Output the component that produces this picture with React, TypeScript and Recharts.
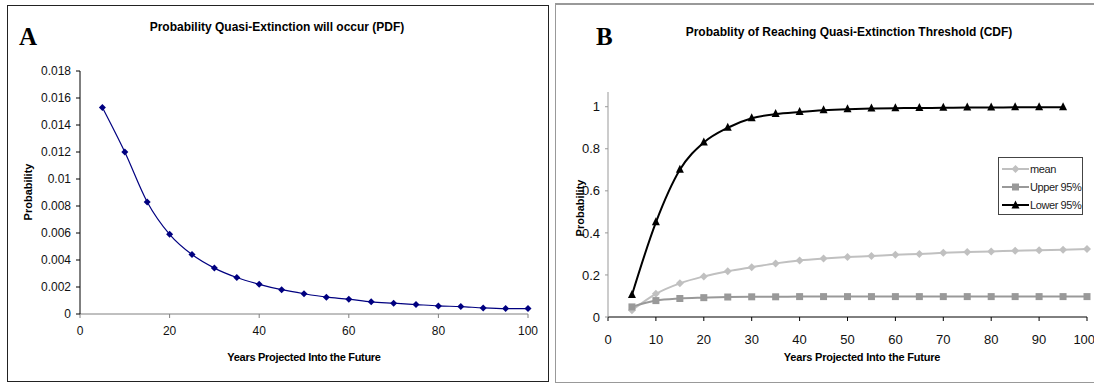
import { LineChart, Line, XAxis, YAxis } from 'recharts'

const years = [5, 10, 15, 20, 25, 30, 35, 40, 45, 50, 55, 60, 65, 70, 75, 80, 85, 90, 95, 100]

const pdf = [
  0.0153, 0.012, 0.0083, 0.0059, 0.0044, 0.0034, 0.0027, 0.0022, 0.0018, 0.0015,
  0.00125, 0.0011, 0.0009, 0.0008, 0.0007, 0.0006, 0.00055, 0.00045, 0.0004, 0.0004,
]

const cdfMean = [
  0.032, 0.11, 0.16, 0.193, 0.218, 0.237, 0.255, 0.269, 0.278, 0.285,
  0.29, 0.296, 0.3, 0.305, 0.309, 0.312, 0.315, 0.318, 0.32, 0.323,
]
const cdfUpper = [
  0.048, 0.078, 0.088, 0.092, 0.095, 0.096, 0.096, 0.097, 0.097, 0.097,
  0.097, 0.097, 0.097, 0.097, 0.097, 0.097, 0.097, 0.097, 0.097, 0.097,
]
const cdfLower = [
  0.105, 0.45, 0.7, 0.83, 0.9, 0.945, 0.965, 0.975, 0.983, 0.988,
  0.991, 0.993, 0.994, 0.995, 0.996, 0.996, 0.997, 0.997, 0.997,
]

const ticksA_x = [0, 20, 40, 60, 80, 100]
const ticksA_y = [0, 0.002, 0.004, 0.006, 0.008, 0.01, 0.012, 0.014, 0.016, 0.018]
const ticksB_x = [0, 10, 20, 30, 40, 50, 60, 70, 80, 90, 100]
const ticksB_y = [0, 0.2, 0.4, 0.6, 0.8, 1]

const dataA = years.map((yr, i) => ({ yr, p: pdf[i] }))
const dataB = years.map((yr, i) => ({ yr, mean: cdfMean[i], upper: cdfUpper[i], lower: cdfLower[i] }))

const sans = "'Liberation Sans', Arial, sans-serif"
const serif = "'Liberation Serif', 'Times New Roman', serif"

const diamond = (color: string, r: number) => (props: any) => {
  const { cx, cy, index, value } = props
  if (cx == null || cy == null || value == null) return <g key={`d-${index}`} />
  return <path key={`d-${index}`} d={`M${cx},${cy - r}L${cx + r},${cy}L${cx},${cy + r}L${cx - r},${cy}Z`} fill={color} />
}
const square = (color: string, r: number) => (props: any) => {
  const { cx, cy, index, value } = props
  if (cx == null || cy == null || value == null) return <g key={`s-${index}`} />
  return <rect key={`s-${index}`} x={cx - r} y={cy - r} width={2 * r} height={2 * r} fill={color} />
}
const triangle = (color: string, r: number) => (props: any) => {
  const { cx, cy, index, value } = props
  if (cx == null || cy == null || value == null) return <g key={`t-${index}`} />
  return <path key={`t-${index}`} d={`M${cx},${cy - r - 1}L${cx + r},${cy + r - 1}L${cx - r},${cy + r - 1}Z`} fill={color} />
}

const fmt = (v: number) => String(Math.round(v * 1000) / 1000)

function text(style: React.CSSProperties, s: string) {
  return <div style={{ position: 'absolute', whiteSpace: 'nowrap', ...style }}>{s}</div>
}

const legendItems = [
  { name: 'mean', color: '#c0c0c0', mark: 'd' },
  { name: 'Upper 95%', color: '#999999', mark: 's' },
  { name: 'Lower 95%', color: '#000', mark: 't' },
]

export default function App() {
  return (
    <div style={{ position: 'absolute', left: 0, top: 0, width: 1094, height: 383, background: '#fff', overflow: 'hidden' }}>
      {/* panel A */}
      <div style={{ position: 'absolute', left: 7, top: 5, width: 540, height: 375, border: '1px solid #222' }} />
      <div style={{ position: 'absolute', left: 0, top: 0 }}>
        <LineChart width={548} height={383} data={dataA} margin={{ top: 71, right: 20, bottom: 39, left: 20 }}>
          <XAxis
            dataKey="yr" type="number" domain={[0, 100]} ticks={ticksA_x} height={30}
            stroke="#808080" tickSize={4} tickMargin={8}
            tick={{ fill: '#111', fontSize: 12, fontFamily: sans }}
          />
          <YAxis
            type="number" domain={[0, 0.018]} ticks={ticksA_y} width={60} tickFormatter={fmt}
            stroke="#000" tickSize={4} tickMargin={5}
            tick={{ fill: '#111', fontSize: 12, fontFamily: sans }}
          />
          <Line
            type="monotone" dataKey="p" stroke="#000080" strokeWidth={1.2}
            dot={diamond('#000080', 3.5)} isAnimationActive={false}
          />
        </LineChart>
      </div>
      {text({ left: 19, top: 24, fontFamily: serif, fontWeight: 'bold', fontSize: 25, lineHeight: '25px' }, 'A')}
      {text({ left: 277, top: 20, transform: 'translateX(-50%)', fontFamily: sans, fontWeight: 'bold', fontSize: 12 }, 'Probability Quasi-Extinction will occur (PDF)')}
      {text({ left: 304, top: 351, transform: 'translateX(-50%)', fontFamily: sans, fontWeight: 'bold', fontSize: 11, letterSpacing: -0.3 }, 'Years Projected Into the Future')}
      {text({ left: 28, top: 192, transform: 'translate(-50%, -50%) rotate(-90deg)', fontFamily: sans, fontWeight: 'bold', fontSize: 11 }, 'Probability')}

      {/* panel B */}
      <div style={{ position: 'absolute', left: 555, top: 3, width: 560, height: 377, borderLeft: '1px solid #999', borderTop: '2px solid #999', borderBottom: '1px solid #999' }} />
      <div style={{ position: 'absolute', left: 555, top: 0 }}>
        <LineChart width={539} height={383} data={dataB} margin={{ top: 92, right: 7, bottom: 36, left: 8 }} style={{ overflow: 'visible' }}>
          <XAxis
            dataKey="yr" type="number" domain={[0, 100]} ticks={ticksB_x} height={30}
            stroke="#000" tickSize={4} tickMargin={14}
            tick={{ fill: '#111', fontSize: 13, fontFamily: sans }}
          />
          <YAxis
            type="number" domain={[0, 1.07]} ticks={ticksB_y} width={45} tickFormatter={fmt}
            stroke="#999" tickSize={3} tickMargin={5}
            tick={{ fill: '#111', fontSize: 13, fontFamily: sans }}
          />
          <Line
            type="monotone" dataKey="mean" stroke="#c0c0c0" strokeWidth={2}
            dot={diamond('#c0c0c0', 4)} isAnimationActive={false}
          />
          <Line
            type="monotone" dataKey="upper" stroke="#999999" strokeWidth={2}
            dot={square('#999999', 3.5)} isAnimationActive={false}
          />
          <Line
            type="monotone" dataKey="lower" stroke="#000" strokeWidth={2}
            dot={triangle('#000', 4)} isAnimationActive={false}
          />
        </LineChart>
      </div>
      {text({ left: 596, top: 24, fontFamily: serif, fontWeight: 'bold', fontSize: 25, lineHeight: '25px' }, 'B')}
      {text({ left: 849, top: 25, transform: 'translateX(-50%)', fontFamily: sans, fontWeight: 'bold', fontSize: 12 }, 'Probablity of Reaching Quasi-Extinction Threshold (CDF)')}
      {text({ left: 862, top: 351, transform: 'translateX(-50%)', fontFamily: sans, fontWeight: 'bold', fontSize: 11, letterSpacing: -0.2 }, 'Years Projected Into the Future')}
      {text({ left: 580, top: 208, transform: 'translate(-50%, -50%) rotate(-90deg)', fontFamily: sans, fontWeight: 'bold', fontSize: 11 }, 'Probability')}

      {/* legend B */}
      <div style={{ position: 'absolute', left: 998, top: 157, width: 83, height: 56, border: '1px solid #444', background: '#fff' }}>
        {legendItems.map((e, i) => (
          <div key={e.name} style={{ position: 'absolute', left: 3, top: 3 + i * 18, height: 16, display: 'flex', alignItems: 'center', whiteSpace: 'nowrap' }}>
            <svg width={27} height={12} style={{ flex: 'none' }}>
              <line x1={0} y1={6} x2={27} y2={6} stroke={e.color} strokeWidth={2} />
              {e.mark === 'd' && <path d="M13.5,2L17.5,6L13.5,10L9.5,6Z" fill={e.color} />}
              {e.mark === 's' && <rect x={10} y={2.5} width={7} height={7} fill={e.color} />}
              {e.mark === 't' && <path d="M13.5,1.5L17.5,9.5L9.5,9.5Z" fill={e.color} />}
            </svg>
            <span style={{ fontFamily: sans, fontSize: 11, color: '#222', marginLeft: 1, letterSpacing: -0.4 }}>{e.name}</span>
          </div>
        ))}
      </div>
    </div>
  )
}
